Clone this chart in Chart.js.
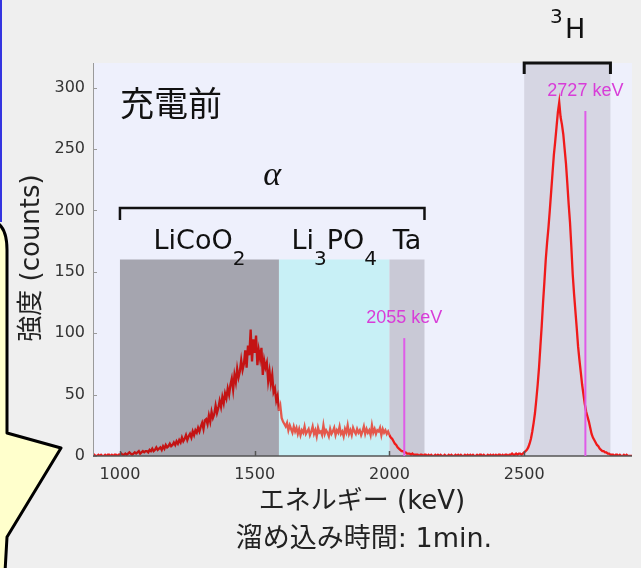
<!DOCTYPE html>
<html>
<head>
<meta charset="utf-8">
<script src="https://cdn.jsdelivr.net/npm/chart.js@4.4.1/dist/chart.umd.min.js"></script>
<style>
    html, body { margin: 0; padding: 0; background: #efefef; overflow: hidden; }
</style>
</head>
<body>
<canvas id="chartEspectro" width="641" height="568"></canvas>
<script>

// =====================================================
// Datos
// =====================================================

const energyStart = 900;
const energyStep = 5;

// cuentas por canal, 900 .. 2900 keV cada 5 keV (una fila = 100 keV)
const counts = [
    0, 1, 0, 0, 1, 0, 1, 0, 0, 1, 0, 1, 1, 0, 1, 0, 1, 1, 0, 1,
    1, 2, 1, 1, 2, 1, 2, 3, 2, 1, 2, 3, 2, 3, 4, 2, 3, 4, 3, 4,
    4, 3, 5, 4, 6, 4, 5, 7, 5, 6, 7, 5, 8, 6, 9, 7, 8, 10, 8, 9,
    11, 9, 12, 10, 13, 11, 15, 12, 14, 17, 13, 16, 18, 15, 20, 17, 21, 19, 23, 20,
    24, 27, 22, 29, 30, 26, 33, 28, 36, 31, 34, 41, 35, 39, 45, 40, 48, 43, 51, 47,
    55, 50, 58, 63, 54, 66, 60, 71, 64, 69, 78, 70, 75, 86, 72, 90, 82, 103, 77, 95,
    84, 98, 74, 86, 79, 88, 66, 78, 72, 76, 61, 69, 59, 66, 52, 55, 45, 49, 37, 41,
    31, 28, 26, 24, 27, 21, 25, 22, 19, 24, 20, 23, 18, 22, 17, 21, 19, 24, 18, 20,
    22, 17, 20, 24, 18, 21, 16, 23, 19, 20, 17, 25, 18, 21, 19, 16, 22, 18, 20, 23,
    17, 21, 19, 24, 18, 20, 16, 22, 19, 25, 18, 21, 17, 23, 20, 18, 22, 19, 21, 17,
    20, 24, 18, 22, 19, 21, 17, 25, 19, 22, 18, 21, 20, 23, 17, 22, 19, 21, 18, 20,
    17, 15, 14, 12, 10, 9, 7, 6, 5, 4, 4, 3, 3, 2, 2, 2, 1, 2, 1, 1,
    1, 1, 0, 1, 1, 0, 1, 1, 0, 1, 0, 1, 0, 0, 1, 0, 1, 0, 1, 0,
    0, 1, 0, 0, 1, 0, 1, 0, 0, 1, 0, 1, 0, 1, 0, 0, 1, 0, 1, 0,
    1, 0, 1, 0, 0, 1, 0, 1, 1, 0, 1, 0, 0, 1, 0, 1, 0, 1, 0, 1,
    0, 1, 1, 0, 1, 0, 1, 1, 0, 1, 1, 2, 1, 1, 2, 1, 2, 2, 1, 2,
    3, 4, 5, 7, 10, 14, 20, 27, 35, 46, 58, 72, 89, 106, 125, 142, 160, 174, 186, 200,
    215, 230, 245, 256, 268, 280, 288, 276, 270, 262, 250, 238, 222, 205, 190, 170, 148, 132, 118, 104,
    89, 78, 68, 58, 50, 42, 36, 32, 28, 23, 18, 15, 13, 11, 9, 8, 6, 5, 4, 4,
    3, 3, 2, 2, 1, 1, 1, 0, 1, 1, 0, 1, 0, 0, 1, 0, 1, 0, 0, 0,
    0
];

const xTicks = [1000, 1500, 2000, 2500];
const yTicks = [0, 50, 100, 150, 200, 250, 300];

// regiones alfa: LiCoO2, Li3PO4, Ta
const regionStart = [1000, 1590, 2000];
const regionEnd = [1590, 2000, 2130];
const regionTop = 160;
const regionLabels = [
    [["LiCoO", false], ["2", true]],
    [["Li", false], ["3", true], ["PO", false], ["4", true]],
    [["Ta", false]]
];

const alphaRange = [1000, 2130];
const alphaLevel = 202;

const tritiumRange = [2500, 2820];

const markerEnergy = [2055, 2727];
const markerTop = [96, 281];
const markerLabels = ["2055 keV", "2727 keV"];


// =====================================================
// Estilos
// =====================================================

const fuente = "'DejaVu Sans','Noto Sans CJK JP',sans-serif";

const colores = {
    pagina: "#efefef",
    fondo: "#eef0fc",
    regiones: ["#a5a5af", "#c8f0f6", "#c9c9d6"],
    tritio: "#d6d6e3",
    rojoOscuro: "#c41414",
    rojoClaro: "#e4584c",
    rojo: "#f01a1a",
    magenta: "#d83cd8",
    lineaMagenta: "#df5ce8",
    texto: "#333333",
    negro: "#111111"
};

function colorPorEnergia(e) {
    if (e >= regionStart[0] && e < regionEnd[0]) return colores.rojoOscuro;
    if (e >= regionStart[1] && e < regionEnd[1]) return colores.rojoClaro;
    return colores.rojo;
}

const spectrum = counts.map((c, i) => ({ x: energyStart + i * energyStep, y: c }));


// =====================================================
// Plugins de dibujo
// =====================================================

const fondoPlugin = {
    id: "fondo",
    beforeDraw(chart) {
        const { ctx, chartArea: a, scales: { x, y } } = chart;
        ctx.save();
        ctx.fillStyle = colores.pagina;
        ctx.fillRect(0, 0, chart.width, chart.height);
        ctx.fillStyle = colores.fondo;
        ctx.fillRect(a.left, a.top, a.right - a.left, a.bottom - a.top);

        const yt = y.getPixelForValue(regionTop);
        regionStart.forEach((s, i) => {
            const x1 = x.getPixelForValue(s);
            const x2 = x.getPixelForValue(regionEnd[i]);
            ctx.fillStyle = colores.regiones[i];
            ctx.fillRect(x1, yt, x2 - x1, a.bottom - yt);
        });

        const t1 = x.getPixelForValue(tritiumRange[0]);
        const t2 = x.getPixelForValue(tritiumRange[1]);
        ctx.fillStyle = colores.tritio;
        ctx.fillRect(t1, a.top, t2 - t1, a.bottom - a.top);
        ctx.restore();
    }
};

function drawChem(ctx, parts, cx, base) {
    const big = "27px " + fuente;
    const small = "20px " + fuente;
    let w = 0;
    parts.forEach(p => {
        ctx.font = p[1] ? small : big;
        w += ctx.measureText(p[0]).width;
    });
    let px = cx - w / 2;
    parts.forEach(p => {
        ctx.font = p[1] ? small : big;
        ctx.fillText(p[0], px, p[1] ? base + 16 : base);
        px += ctx.measureText(p[0]).width;
    });
}

const anotacionesPlugin = {
    id: "anotaciones",
    afterDraw(chart) {
        const { ctx, chartArea: a, scales: { x, y } } = chart;
        ctx.save();

        // ejes
        ctx.strokeStyle = "#9a9a9a";
        ctx.lineWidth = 1;
        ctx.beginPath();
        ctx.moveTo(a.left + 0.5, a.top);
        ctx.lineTo(a.left + 0.5, a.bottom);
        ctx.stroke();
        yTicks.forEach(v => {
            const py = Math.round(y.getPixelForValue(v)) + 0.5;
            ctx.beginPath();
            ctx.moveTo(a.left, py);
            ctx.lineTo(a.left + 4, py);
            ctx.stroke();
        });
        ctx.strokeStyle = "#555";
        ctx.lineWidth = 1.5;
        ctx.beginPath();
        ctx.moveTo(a.left, a.bottom);
        ctx.lineTo(a.right, a.bottom);
        ctx.stroke();
        xTicks.forEach(v => {
            const px = Math.round(x.getPixelForValue(v)) + 0.5;
            ctx.beginPath();
            ctx.moveTo(px, a.bottom);
            ctx.lineTo(px, a.bottom - 5);
            ctx.stroke();
        });

        // lineas de referencia
        ctx.strokeStyle = colores.lineaMagenta;
        ctx.lineWidth = 2;
        ctx.fillStyle = colores.magenta;
        ctx.font = "18px 'Liberation Sans',sans-serif";
        ctx.textAlign = "center";
        ctx.textBaseline = "middle";
        markerEnergy.forEach((e, i) => {
            const px = x.getPixelForValue(e);
            const pt = y.getPixelForValue(markerTop[i]);
            ctx.beginPath();
            ctx.moveTo(px, pt);
            ctx.lineTo(px, a.bottom);
            ctx.stroke();
            ctx.fillText(markerLabels[i], px, pt - 20);
        });

        // corchetes
        ctx.strokeStyle = colores.negro;
        ctx.lineWidth = 2.5;
        ctx.lineJoin = "miter";
        const ay = y.getPixelForValue(alphaLevel);
        const ax1 = x.getPixelForValue(alphaRange[0]);
        const ax2 = x.getPixelForValue(alphaRange[1]);
        ctx.beginPath();
        ctx.moveTo(ax1, ay + 12);
        ctx.lineTo(ax1, ay);
        ctx.lineTo(ax2, ay);
        ctx.lineTo(ax2, ay + 12);
        ctx.stroke();

        const tx1 = x.getPixelForValue(tritiumRange[0]);
        const tx2 = x.getPixelForValue(tritiumRange[1]);
        ctx.lineWidth = 3;
        ctx.beginPath();
        ctx.moveTo(tx1, a.top + 11);
        ctx.lineTo(tx1, a.top);
        ctx.lineTo(tx2, a.top);
        ctx.lineTo(tx2, a.top + 11);
        ctx.stroke();

        // textos
        ctx.fillStyle = colores.negro;
        ctx.font = "italic 34px 'Liberation Serif',serif";
        ctx.fillText("\u03b1", (ax1 + ax2) / 2, ay - 32);

        ctx.textAlign = "left";
        ctx.textBaseline = "alphabetic";
        const yt = y.getPixelForValue(regionTop);
        regionLabels.forEach((parts, i) => {
            const cx = (x.getPixelForValue(regionStart[i]) + x.getPixelForValue(regionEnd[i])) / 2;
            drawChem(ctx, parts, cx, yt - 11);
        });

        ctx.font = "20px " + fuente;
        ctx.fillText("3", 550, 23);
        ctx.font = "27px " + fuente;
        ctx.fillText("H", 565, 38);

        ctx.font = "34px 'Noto Sans CJK JP',sans-serif";
        ctx.textBaseline = "middle";
        ctx.fillText("充電前", 120, 103);

        ctx.fillStyle = "#222";
        ctx.textAlign = "center";
        ctx.font = "26px " + fuente;
        ctx.fillText("エネルギー (keV)", 362, 502);
        ctx.font = "27px " + fuente;
        ctx.fillText("溜め込み時間: 1min.", 364, 540);

        ctx.font = "26px " + fuente;
        ctx.save();
        ctx.translate(32, 258);
        ctx.rotate(-Math.PI / 2);
        ctx.fillText("強度 (counts)", 0, 0);
        ctx.restore();

        // globo amarillo a la izquierda
        ctx.fillStyle = "#3434e0";
        ctx.fillRect(0, 0, 2, 222);
        ctx.fillStyle = "#ffffcc";
        ctx.strokeStyle = "#000";
        ctx.lineWidth = 3;
        ctx.lineJoin = "round";
        ctx.beginPath();
        ctx.moveTo(-4, 222);
        ctx.quadraticCurveTo(7, 228, 7, 250);
        ctx.lineTo(7, 433);
        ctx.lineTo(61, 448);
        ctx.lineTo(7, 537);
        ctx.quadraticCurveTo(6, 555, 5, 572);
        ctx.lineTo(-4, 572);
        ctx.closePath();
        ctx.fill();
        ctx.stroke();

        ctx.restore();
    }
};


// =====================================================
// Grafico
// =====================================================

const tickFont = { family: fuente, size: 16 };

new Chart(document.getElementById("chartEspectro"), {

    type: "line",

    data: {
        datasets: [{
            data: spectrum,
            borderColor: colores.rojo,
            borderWidth: 2.3,
            pointRadius: 0,
            tension: 0,
            segment: {
                borderColor: c => colorPorEnergia(c.p0.parsed.x)
            }
        }]
    },

    options: {
        responsive: false,
        animation: false,
        events: [],
        layout: {
            padding: { top: 63, right: 9, left: 0, bottom: 0 }
        },
        plugins: {
            legend: { display: false },
            tooltip: { enabled: false }
        },
        scales: {
            x: {
                type: "linear",
                min: 900,
                max: 2900,
                afterBuildTicks: s => { s.ticks = xTicks.map(v => ({ value: v })); },
                afterFit: s => { s.height = 112; },
                grid: { display: false, drawTicks: false },
                border: { display: false },
                ticks: {
                    font: tickFont,
                    color: colores.texto,
                    padding: 9,
                    maxRotation: 0,
                    callback: v => String(v)
                }
            },
            y: {
                min: 0,
                max: 320,
                afterBuildTicks: s => { s.ticks = yTicks.map(v => ({ value: v })); },
                afterFit: s => { s.width = 93; },
                grid: { display: false, drawTicks: false },
                border: { display: false },
                ticks: { font: tickFont, color: colores.texto, padding: 8 }
            }
        }
    },

    plugins: [fondoPlugin, anotacionesPlugin]

});

</script>
</body>
</html>
